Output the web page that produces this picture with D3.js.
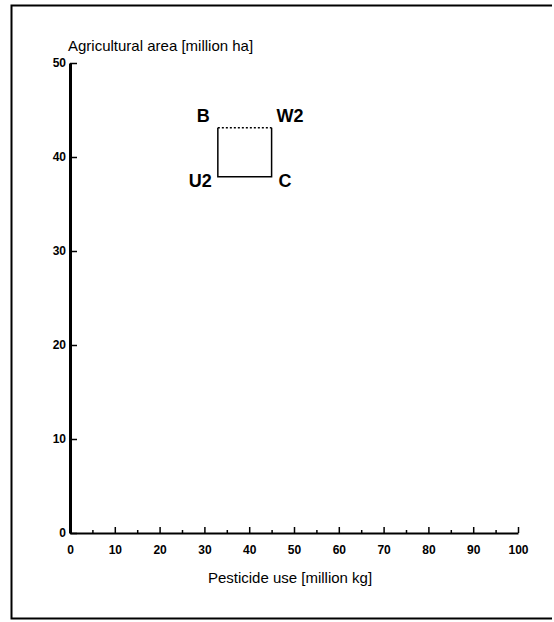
<!DOCTYPE html>
<html>
<head>
<meta charset="utf-8">
<script src="https://cdn.jsdelivr.net/npm/d3@7"></script>
<style>
  body { margin: 0; background: #fff; }
  svg { display: block; font-family: "Liberation Sans", Arial, sans-serif; }
</style>
</head>
<body>
<figure id="chart" style="margin:0"></figure>
<script>
// chart data
const pointNames = ['B', 'W2', 'C', 'U2'];
const pesticideUse = [33, 45, 45, 33];      // million kg
const agriculturalArea = [43.1, 43.1, 37.9, 37.9]; // million ha
const xTicks = [0, 10, 20, 30, 40, 50, 60, 70, 80, 90, 100];
const yTicks = [0, 10, 20, 30, 40, 50];

const width = 554;
const height = 622;
const margin = { top: 63, right: 36, bottom: 89, left: 70 };

const svg = d3.select('#chart')
  .append('svg')
  .attr('width', width)
  .attr('height', height);

// outer frame of the scanned figure
svg.append('path')
  .attr('d', 'M552,5.5 H11.5 V618.5 H552')
  .attr('fill', 'none')
  .attr('stroke', '#000')
  .attr('stroke-width', 2);

const x = d3.scaleLinear().domain([0, 100]).range([margin.left, width - margin.right]);
const y = d3.scaleLinear().domain([0, 50]).range([height - margin.bottom, margin.top]);

// x axis
svg.append('g')
  .attr('transform', 'translate(0,' + y(0) + ')')
  .call(d3.axisBottom(x).tickValues(xTicks).tickSizeInner(-6).tickSizeOuter(0).tickPadding(12));
svg.append('g')
  .attr('transform', 'translate(0,' + y(0) + ')')
  .call(d3.axisBottom(x).tickValues(d3.range(5, 100, 10)).tickSize(-3).tickFormat(''))
  .call(g => g.select('.domain').remove());

// y axis
const yAxis = svg.append('g')
  .attr('transform', 'translate(' + x(0) + ',0)')
  .call(d3.axisLeft(y).tickValues(yTicks).tickSizeInner(-7).tickSizeOuter(0).tickPadding(4));

svg.selectAll('.domain').attr('stroke-width', 2);
yAxis.select('.domain').attr('stroke-width', 3);
svg.selectAll('.tick line').attr('stroke-width', 1.5);
svg.selectAll('.tick text')
  .style('font-size', '12px')
  .style('font-weight', 'bold')
  .attr('fill', '#000');

// axis titles
svg.append('text')
  .attr('x', 68)
  .attr('y', 51)
  .style('font-size', '15px')
  .text('Agricultural area [million ha]');

svg.append('text')
  .attr('x', 290)
  .attr('y', 583)
  .attr('text-anchor', 'middle')
  .style('font-size', '15px')
  .text('Pesticide use [million kg]');

// rectangle B - W2 - C - U2
const pts = pointNames.map((n, i) => ({ name: n, x: pesticideUse[i], y: agriculturalArea[i] }));
const line = d3.line().x(d => x(d.x)).y(d => y(d.y));

// dotted top edge B -> W2
svg.append('path')
  .attr('d', line([pts[0], pts[1]]))
  .attr('fill', 'none')
  .attr('stroke', '#000')
  .attr('stroke-width', 1.5)
  .attr('stroke-dasharray', '2,2');

// solid edges W2 -> C -> U2 -> B
svg.append('path')
  .attr('d', line([pts[1], pts[2], pts[3], pts[0]]))
  .attr('fill', 'none')
  .attr('stroke', '#000')
  .attr('stroke-width', 1.5);

// point labels
const labelOffsets = {
  'B': { dx: -8, dy: -6, anchor: 'end' },
  'W2': { dx: 5, dy: -6, anchor: 'start' },
  'C': { dx: 7, dy: 10, anchor: 'start' },
  'U2': { dx: -6, dy: 10, anchor: 'end' }
};

svg.selectAll('text.point')
  .data(pts)
  .enter()
  .append('text')
  .attr('class', 'point')
  .attr('x', d => x(d.x) + labelOffsets[d.name].dx)
  .attr('y', d => y(d.y) + labelOffsets[d.name].dy)
  .attr('text-anchor', d => labelOffsets[d.name].anchor)
  .style('font-size', '18px')
  .style('font-weight', 'bold')
  .text(d => d.name);
</script>
</body>
</html>
